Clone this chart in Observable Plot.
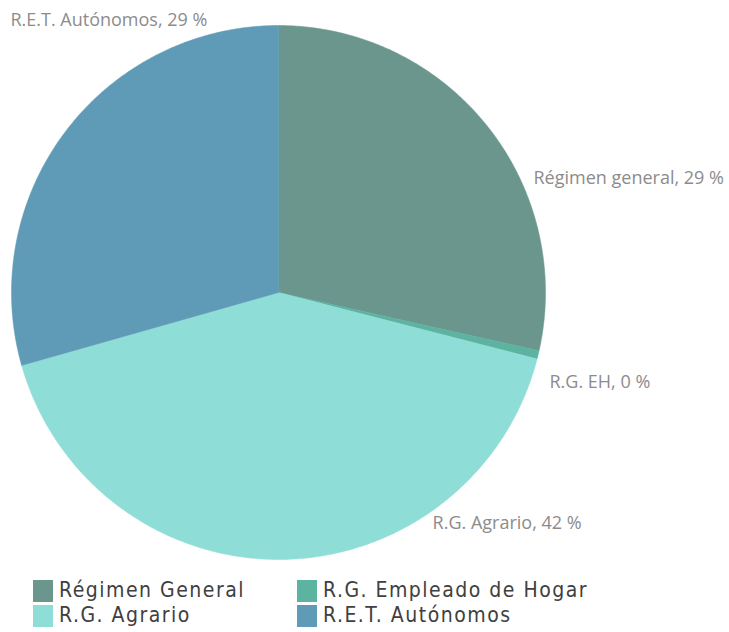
<!DOCTYPE html>
<html>
<head>
<meta charset="utf-8">
<script src="https://cdn.jsdelivr.net/npm/d3@7"></script>
<script src="https://cdn.jsdelivr.net/npm/@observablehq/plot@0.6"></script>
<style>
  body { margin: 0; background: #fff; font-family: "Open Sans", sans-serif; }
  #chart { position: relative; width: 729px; }
  .legend { display: grid; grid-template-columns: 264px 300px; margin-left: 33px; margin-top: 8px; font-family: "DejaVu Sans Condensed", "DejaVu Sans", sans-serif; font-size: 21px; letter-spacing: 1.5px; color: #404040; line-height: 25px; }
  .legend .item { display: flex; align-items: center; white-space: nowrap; height: 25px; }
  .legend .sw { width: 20px; height: 22px; margin-right: 6px; flex: none; }
</style>
</head>
<body>
<div id="chart"></div>
<script>
// Data (percent shares, clockwise from 12 o'clock)
const categories = ["Régimen General", "R.G. Empleado de Hogar", "R.G. Agrario", "R.E.T. Autónomos"];
const values = [28.5, 0.5, 41.6, 29.4];
const labelTexts = ["Régimen general, 29 %", "R.G. EH, 0 %", "R.G. Agrario, 42 %", "R.E.T. Autónomos, 29 %"];
const colors = ["#6a968e", "#5cb3a0", "#8fddd7", "#5f9bb6"];
// legend order
const legendOrder = ["Régimen General", "R.G. Empleado de Hogar", "R.G. Agrario", "R.E.T. Autónomos"];
// label anchors in unit-circle coordinates
const labelX = [0.955, 1.015, 0.577, -1.004];
const labelY = [0.427, -0.337, -0.865, 1.019];

const total = d3.sum(values);
const pts = [];
let acc = 0;
categories.forEach((c, i) => {
  const a0 = acc / total * 2 * Math.PI;
  acc += values[i];
  const a1 = acc / total * 2 * Math.PI;
  pts.push({cat: c, x: 0, y: 0});
  const n = Math.max(2, Math.ceil((a1 - a0) / (Math.PI / 360)));
  for (let k = 0; k <= n; k++) {
    const a = a0 + (a1 - a0) * k / n;
    pts.push({cat: c, x: Math.sin(a), y: Math.cos(a)});
  }
  pts.push({cat: c, x: 0, y: 0});
});

const labels = labelTexts.map((t, i) => ({t, x: labelX[i], y: labelY[i]}));

const chart = Plot.plot({
  width: 729,
  height: 570,
  marginLeft: 11,
  marginRight: 184,
  marginTop: 25,
  marginBottom: 11,
  x: {domain: [-1, 1], axis: null},
  y: {domain: [-1, 1], axis: null},
  color: {domain: categories, range: colors},
  style: {fontFamily: "'Open Sans', sans-serif", background: "#fff"},
  marks: [
    Plot.line(pts, {x: "x", y: "y", z: "cat", fill: "cat", stroke: "cat", strokeWidth: 0.5, curve: "linear"}),
    Plot.text(labels, {x: "x", y: "y", text: "t", textAnchor: "start", fill: "#8c8c8c", fontSize: 18})
  ]
});
document.getElementById("chart").appendChild(chart);

const leg = document.createElement("div");
leg.className = "legend";
legendOrder.forEach(c => {
  const it = document.createElement("div");
  it.className = "item";
  const sw = document.createElement("span");
  sw.className = "sw";
  sw.style.background = colors[categories.indexOf(c)];
  it.appendChild(sw);
  it.appendChild(document.createTextNode(c));
  leg.appendChild(it);
});
document.getElementById("chart").appendChild(leg);
</script>
</body>
</html>
